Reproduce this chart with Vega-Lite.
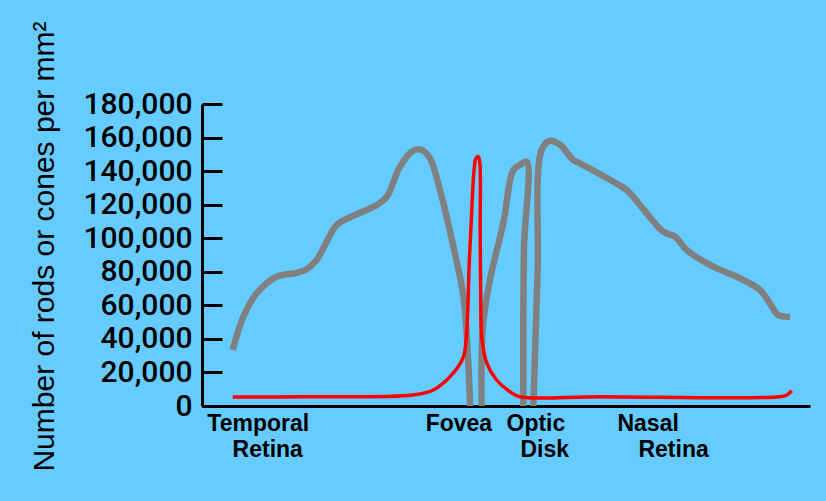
{
  "$schema": "https://vega.github.io/schema/vega-lite/v6.json",
  "width": 608,
  "height": 302,
  "autosize": {"type": "none"},
  "padding": {"left": 202, "top": 104, "right": 16, "bottom": 95},
  "background": "#66ccff",
  "config": {"view": {"stroke": null}},
  "resolve": {"axis": {"x": "independent", "y": "independent"}},
  "datasets": {
    "rods": [
      {"seg": 1, "i": 1, "pos": -79.9, "density": 33400},
      {"seg": 1, "i": 2, "pos": -76.4, "density": 53200},
      {"seg": 1, "i": 3, "pos": -72.0, "density": 67200},
      {"seg": 1, "i": 4, "pos": -65.4, "density": 77100},
      {"seg": 1, "i": 5, "pos": -58.8, "density": 79400},
      {"seg": 1, "i": 6, "pos": -55.6, "density": 81500},
      {"seg": 1, "i": 7, "pos": -52.3, "density": 87000},
      {"seg": 1, "i": 8, "pos": -45.7, "density": 107900},
      {"seg": 1, "i": 9, "pos": -41.3, "density": 112500},
      {"seg": 1, "i": 10, "pos": -32.5, "density": 119800},
      {"seg": 1, "i": 11, "pos": -29.2, "density": 124700},
      {"seg": 1, "i": 12, "pos": -24.9, "density": 142600},
      {"seg": 1, "i": 13, "pos": -20.5, "density": 152200},
      {"seg": 1, "i": 14, "pos": -17.7, "density": 152600},
      {"seg": 1, "i": 15, "pos": -15.0, "density": 147600},
      {"seg": 1, "i": 16, "pos": -11.7, "density": 128700},
      {"seg": 1, "i": 17, "pos": -7.3, "density": 94900},
      {"seg": 1, "i": 18, "pos": -4.0, "density": 65100},
      {"seg": 1, "i": 19, "pos": -2.4, "density": 25400},
      {"seg": 1, "i": 20, "pos": -1.8, "density": 0},
      {"seg": 2, "i": 21, "pos": 2.0, "density": 0},
      {"seg": 2, "i": 22, "pos": 2.3, "density": 45300},
      {"seg": 2, "i": 23, "pos": 4.7, "density": 75100},
      {"seg": 2, "i": 24, "pos": 9.1, "density": 108900},
      {"seg": 2, "i": 25, "pos": 12.4, "density": 140700},
      {"seg": 2, "i": 26, "pos": 14.5, "density": 143500},
      {"seg": 2, "i": 27, "pos": 16.8, "density": 145600},
      {"seg": 2, "i": 28, "pos": 15.9, "density": 93000},
      {"seg": 2, "i": 29, "pos": 15.7, "density": 0},
      {"seg": 3, "i": 30, "pos": 19.0, "density": 0},
      {"seg": 3, "i": 31, "pos": 20.4, "density": 80000},
      {"seg": 3, "i": 32, "pos": 21.7, "density": 152600},
      {"seg": 3, "i": 33, "pos": 24.5, "density": 158100},
      {"seg": 3, "i": 34, "pos": 27.8, "density": 155600},
      {"seg": 3, "i": 35, "pos": 32.1, "density": 146600},
      {"seg": 3, "i": 36, "pos": 34.3, "density": 144600},
      {"seg": 3, "i": 37, "pos": 45.3, "density": 133700},
      {"seg": 3, "i": 38, "pos": 49.7, "density": 128700},
      {"seg": 3, "i": 39, "pos": 56.3, "density": 114800},
      {"seg": 3, "i": 40, "pos": 61.7, "density": 103900},
      {"seg": 3, "i": 41, "pos": 65.6, "density": 100900},
      {"seg": 3, "i": 42, "pos": 69.4, "density": 93000},
      {"seg": 3, "i": 43, "pos": 78.2, "density": 83000},
      {"seg": 3, "i": 44, "pos": 87.0, "density": 76100},
      {"seg": 3, "i": 45, "pos": 93.6, "density": 69100},
      {"seg": 3, "i": 46, "pos": 96.8, "density": 61200},
      {"seg": 3, "i": 47, "pos": 99.6, "density": 54200},
      {"seg": 3, "i": 48, "pos": 103.4, "density": 53200}
    ],
    "cones": [
      {"i": 1, "pos": -79.9, "density": 5400},
      {"i": 2, "pos": -57.8, "density": 5500},
      {"i": 3, "pos": -20.6, "density": 6600},
      {"i": 4, "pos": -13.9, "density": 9500},
      {"i": 5, "pos": -7.3, "density": 19700},
      {"i": 6, "pos": -4.0, "density": 29400},
      {"i": 7, "pos": -2.9, "density": 45300},
      {"i": 8, "pos": -2.1, "density": 85200},
      {"i": 9, "pos": -1.3, "density": 115000},
      {"i": 10, "pos": -0.5, "density": 140700},
      {"i": 11, "pos": 0.1, "density": 147600},
      {"i": 12, "pos": 0.9, "density": 148600},
      {"i": 13, "pos": 1.4, "density": 144800},
      {"i": 14, "pos": 1.5, "density": 104900},
      {"i": 15, "pos": 1.7, "density": 65100},
      {"i": 16, "pos": 2.0, "density": 41300},
      {"i": 17, "pos": 3.7, "density": 25400},
      {"i": 18, "pos": 6.9, "density": 15500},
      {"i": 19, "pos": 11.3, "density": 8500},
      {"i": 20, "pos": 14.6, "density": 5500},
      {"i": 21, "pos": 40.9, "density": 5500},
      {"i": 22, "pos": 100.1, "density": 5500},
      {"i": 23, "pos": 102.4, "density": 6600},
      {"i": 24, "pos": 104.0, "density": 9100}
    ]
  },
  "layer": [
    {
      "data": {"name": "rods"},
      "mark": {"type": "line", "color": "#808080", "strokeWidth": 6.5, "interpolate": "catmull-rom", "clip": false, "strokeJoin": "round"},
      "encoding": {
        "x": {
          "field": "pos", "type": "quantitative",
          "scale": {"domain": [-90, 110], "nice": false, "zero": false},
          "axis": {
            "orient": "bottom",
            "values": [-88.4, -16.6, 10.0, 46.5],
            "title": null, "ticks": false, "grid": false,
            "domainColor": "black", "domainWidth": 3,
            "labelAlign": "left", "labelBaseline": "top", "labelPadding": 6,
            "labelFont": "Liberation Sans", "labelFontWeight": "bold", "labelFontSize": 23,
            "labelColor": "black",
            "labelOverlap": false, "labelFlush": false, "labelBound": false,
            "labelExpr": "datum.value < -50 ? 'Temporal' : datum.value < 0 ? 'Fovea' : datum.value < 30 ? 'Optic' : 'Nasal'"
          }
        },
        "y": {
          "field": "density", "type": "quantitative",
          "scale": {"domain": [0, 180000], "nice": false},
          "axis": {
            "orient": "left",
            "offset": -20,
            "values": [20000, 40000, 60000, 80000, 100000, 120000, 140000, 160000, 180000, 0],
            "format": ",d",
            "title": "Number of rods or cones per mm²",
            "grid": false, "domain": false,
            "tickColor": "black", "tickWidth": 3, "tickSize": 20,
            "labelPadding": 10, "labelFont": "Roboto", "labelFontWeight": 500, "labelFontSize": 30,
            "labelColor": "black", "labelBaseline": "middle",
            "labelOverlap": false, "labelFlush": false, "labelBound": false,
            "titleFont": "Liberation Sans", "titleFontSize": 30, "titleFontWeight": "normal",
            "titleColor": "black", "titleX": -169, "titleY": 142, "titleAngle": -90,
            "titleBaseline": "alphabetic", "titleAlign": "center"
          }
        },
        "detail": {"field": "seg", "type": "nominal"},
        "order": {"field": "i", "type": "quantitative"}
      }
    },
    {
      "data": {"name": "cones"},
      "mark": {"type": "line", "color": "#ff0000", "strokeWidth": 3.5, "interpolate": "catmull-rom", "clip": false, "strokeJoin": "round"},
      "encoding": {
        "x": {
          "field": "pos", "type": "quantitative",
          "axis": {
            "orient": "bottom",
            "values": [-80.1, 14.6, 53.4],
            "title": null, "ticks": false, "grid": false, "domain": false,
            "labelAlign": "left", "labelBaseline": "top", "labelPadding": 32,
            "labelFont": "Liberation Sans", "labelFontWeight": "bold", "labelFontSize": 23,
            "labelColor": "black",
            "labelOverlap": false, "labelFlush": false, "labelBound": false,
            "labelExpr": "datum.value < -50 ? 'Retina' : datum.value < 30 ? 'Disk' : 'Retina'"
          }
        },
        "y": {
          "field": "density", "type": "quantitative",
          "axis": {
            "orient": "left",
            "title": null, "labels": false, "ticks": false, "grid": false,
            "domain": true, "domainColor": "black", "domainWidth": 3
          }
        },
        "order": {"field": "i", "type": "quantitative"}
      }
    }
  ]
}
